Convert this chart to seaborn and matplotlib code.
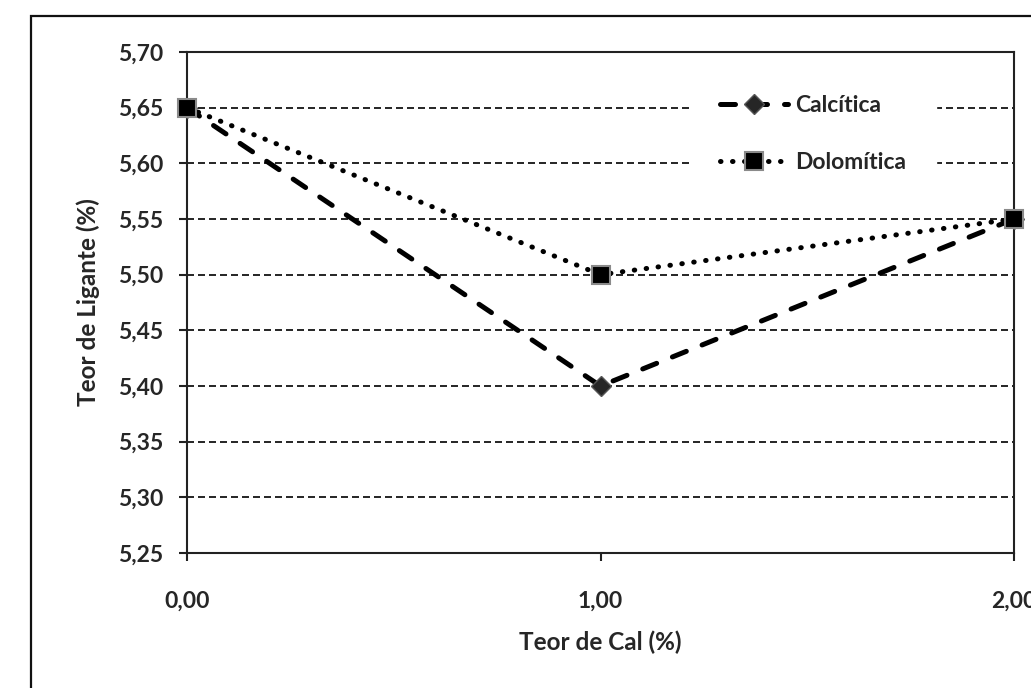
import matplotlib
matplotlib.use("Agg")
import matplotlib.pyplot as plt
from matplotlib.patches import Rectangle
from matplotlib.ticker import FuncFormatter, FixedLocator
import seaborn as sns

# Binder content (%) versus lime content (%) for two lime types
teor_cal = [0.0, 1.0, 2.0]
calcitica = [5.65, 5.40, 5.55]
dolomitica = [5.65, 5.50, 5.55]
y_ticks = [5.25, 5.30, 5.35, 5.40, 5.45, 5.50, 5.55, 5.60, 5.65, 5.70]
x_ticks = [0.0, 1.0, 2.0]

sns.set_theme(style="white")
plt.rcParams["font.family"] = ["Lato", "DejaVu Sans"]
plt.rcParams["font.weight"] = "bold"

FS = 16.5

fig = plt.figure(figsize=(10.31, 6.88), dpi=100)
ax = fig.add_axes([187 / 1031, 1 - 553 / 688, (1014 - 187) / 1031, (553 - 52) / 688])

# outer chart frame
fig.patches.append(Rectangle((31 / 1031, -0.1), 1.2, 1 - 16 / 688 + 0.1,
                             transform=fig.transFigure, fill=False,
                             edgecolor="#111111", linewidth=1.6, clip_on=False))

sns.lineplot(x=teor_cal, y=calcitica, ax=ax, color="black",
             linestyle=(0, (3.0, 3.4)), dash_capstyle="round", linewidth=3.6,
             marker="D", markersize=10, markerfacecolor="#262626",
             markeredgecolor="#555555", markeredgewidth=1.0,
             label="Calcítica", clip_on=False, zorder=4)
sns.lineplot(x=teor_cal, y=dolomitica, ax=ax, color="black",
             linestyle=(0, (0.1, 2.3)), dash_capstyle="round", linewidth=3.6,
             marker="s", markersize=12.5, markerfacecolor="black",
             markeredgecolor="#8a8a8a", markeredgewidth=1.5,
             label="Dolomítica", clip_on=False, zorder=5)

ax.set_xlim(0, 2)
ax.set_ylim(5.25, 5.70)
ax.xaxis.set_major_locator(FixedLocator(x_ticks))
ax.yaxis.set_major_locator(FixedLocator(y_ticks))
fmt = FuncFormatter(lambda v, p: f"{v:.2f}".replace(".", ","))
ax.xaxis.set_major_formatter(fmt)
ax.yaxis.set_major_formatter(fmt)

ax.grid(False)
ax.yaxis.grid(True, color="black", linestyle=(0, (4.2, 2.4)), linewidth=1.2)
ax.set_axisbelow(True)

for sp in ax.spines.values():
    sp.set_color("#222222")
    sp.set_linewidth(1.5)

ax.tick_params(axis="y", direction="out", length=6, width=1.5, color="#222222",
               pad=11, labelsize=FS, left=True)
ax.tick_params(axis="x", direction="out", length=6, width=1.5, color="#222222",
               pad=21, labelsize=FS, bottom=True)
for lab in ax.get_xticklabels() + ax.get_yticklabels():
    lab.set_fontweight("bold")

ax.set_xlabel("Teor de Cal (%)", fontsize=17.5, fontweight="bold", labelpad=14)
ax.set_ylabel("Teor de Ligante (%)", fontsize=17.5, fontweight="bold", labelpad=13)

leg = ax.legend(loc="center left", bbox_to_anchor=(0.608, 0.836),
                borderaxespad=0, frameon=True, fancybox=False,
                facecolor="white", edgecolor="white", framealpha=1,
                handlelength=3.0, handletextpad=0.3, labelspacing=1.55,
                borderpad=1.3, prop={"size": FS, "weight": "bold"})
leg.set_zorder(6)

fig.savefig("out.png", dpi=100)
